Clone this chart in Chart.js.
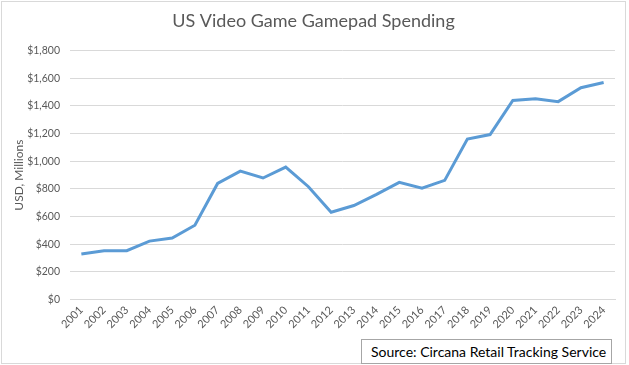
<!DOCTYPE html>
<html>
<head>
<meta charset="utf-8">
<script src="https://cdn.jsdelivr.net/npm/chart.js@4"></script>
<style>
    html, body { margin: 0; padding: 0; background: #fff; }
    #wrap { position: relative; width: 629px; height: 365px; }
    #source {
        position: absolute; left: 361px; top: 339px; width: 251px; height: 25px;
        border: 1px solid #a6a6a6; background: #fff; box-sizing: border-box;
        font-family: Lato, "Open Sans", sans-serif; font-size: 14px; color: #000;
        line-height: 23px; padding-left: 9px; white-space: nowrap;
    }
</style>
</head>
<body>
<div id="wrap">
    <canvas id="spendChart" width="629" height="365"></canvas>
    <div id="source">Source: Circana Retail Tracking Service</div>
</div>
<script>
const years = ['2001','2002','2003','2004','2005','2006','2007','2008','2009','2010','2011','2012',
               '2013','2014','2015','2016','2017','2018','2019','2020','2021','2022','2023','2024'];
const spending = [330, 354, 354, 423, 445, 538, 840, 929, 879, 958, 816, 632,
                  680, 761, 848, 805, 862, 1160, 1193, 1440, 1452, 1431, 1532, 1570];
const yTicks = [0, 200, 400, 600, 800, 1000, 1200, 1400, 1600, 1800];

// white background + thin frame like the Excel chart area
const frame = {
    id: 'frame',
    beforeDraw(chart) {
        const c = chart.ctx;
        c.save();
        c.fillStyle = '#fff';
        c.fillRect(0, 0, chart.width, chart.height);
        c.strokeStyle = '#d9d9d9';
        c.lineWidth = 1;
        c.strokeRect(1.5, 1.5, chart.width - 5, chart.height - 3);
        c.restore();
    }
};

const fontFamily = 'Lato, "Open Sans", sans-serif';

new Chart(document.getElementById('spendChart').getContext('2d'), {
    type: 'line',
    data: {
        labels: years,
        datasets: [{
            label: 'Gamepad Spending',
            data: spending,
            borderColor: '#5b9bd5',
            backgroundColor: '#5b9bd5',
            borderWidth: 3,
            pointRadius: 0,
            tension: 0,
            fill: false
        }]
    },
    options: {
        responsive: false,
        animation: false,
        layout: { padding: { left: 12, right: 14, top: 0, bottom: 30 } },
        plugins: {
            legend: { display: false },
            tooltip: { enabled: false },
            title: {
                display: true,
                text: 'US Video Game Gamepad Spending',
                color: '#595959',
                font: { family: fontFamily, size: 18, weight: 'normal' },
                padding: { top: 10, bottom: 19 }
            }
        },
        scales: {
            x: {
                offset: true,
                grid: { display: false, drawTicks: false },
                border: { color: '#d9d9d9' },
                ticks: {
                    color: '#595959',
                    font: { family: fontFamily, size: 11 },
                    maxRotation: 45, minRotation: 45,
                    autoSkip: false,
                    padding: 4
                },
                // rotated labels may hang past the plot edge, as in Excel
                afterFit(axis) { axis.paddingLeft = 0; axis.paddingRight = 0; }
            },
            y: {
                min: 0, max: 1800,
                afterBuildTicks(axis) { axis.ticks = yTicks.map(v => ({ value: v })); },
                afterFit(axis) { axis.width = 58; },
                grid: { color: '#d9d9d9', drawTicks: false },
                border: { display: false },
                ticks: {
                    color: '#595959',
                    font: { family: fontFamily, size: 10.5 },
                    padding: 10,
                    callback: v => '$' + v.toLocaleString('en-US')
                },
                title: {
                    display: true,
                    text: 'USD, Millions',
                    color: '#595959',
                    font: { family: fontFamily, size: 12 },
                    padding: { top: 0, bottom: 5 }
                }
            }
        }
    },
    plugins: [frame]
});
</script>
</body>
</html>
